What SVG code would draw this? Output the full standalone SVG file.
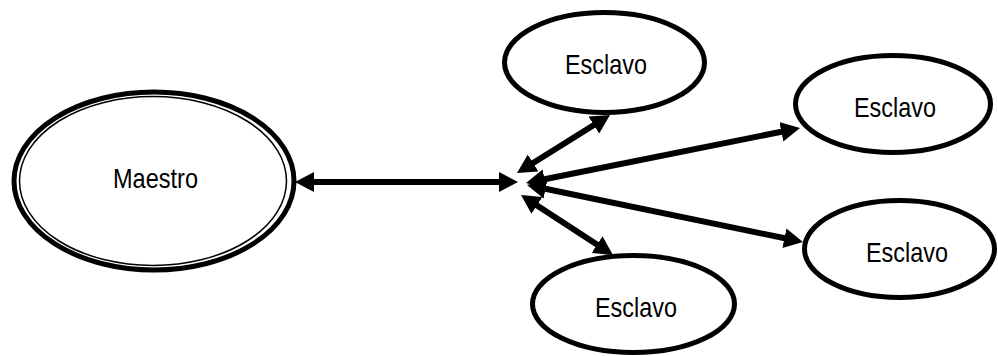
<svg xmlns="http://www.w3.org/2000/svg" width="998" height="356" viewBox="0 0 998 356">
<style>
  .node { fill: #fff; stroke: #000; stroke-width: 5; }
  .thin { fill: none; stroke: #000; stroke-width: 1.5; }
  .lbl { font-family: "Liberation Sans Narrow", "Liberation Sans", Arial, sans-serif; font-size: 28px; fill: #000; text-anchor: middle; }
  .conn { stroke: #000; stroke-width: 6; fill: none; marker-start: url(#ah); marker-end: url(#ah); }
</style>
<defs>
  <marker id="ah" markerUnits="userSpaceOnUse" markerWidth="20" markerHeight="20" refX="9" refY="10" orient="auto-start-reverse">
    <path d="M0,0 L19,10 L0,20 z" fill="#000"/>
  </marker>
</defs>
<rect width="998" height="356" fill="#fff"/>
<g id="maestro">
  <ellipse class="node" cx="154" cy="181" rx="140" ry="89"/>
  <ellipse class="thin" cx="153" cy="181" rx="133.5" ry="84.5"/>
  <text class="lbl" x="155.5" y="188" textLength="85" lengthAdjust="spacingAndGlyphs">Maestro</text>
</g>
<g id="esclavo1">
  <ellipse class="node" cx="604.5" cy="62.5" rx="100" ry="50"/>
  <text class="lbl" x="606" y="74" textLength="82" lengthAdjust="spacingAndGlyphs">Esclavo</text>
</g>
<g id="esclavo2">
  <ellipse class="node" cx="893" cy="104" rx="97.5" ry="48.5"/>
  <text class="lbl" x="895" y="117" textLength="82" lengthAdjust="spacingAndGlyphs">Esclavo</text>
</g>
<g id="esclavo3">
  <ellipse class="node" cx="899.5" cy="249" rx="95" ry="48.5"/>
  <text class="lbl" x="907" y="262" textLength="82" lengthAdjust="spacingAndGlyphs">Esclavo</text>
</g>
<g id="esclavo4">
  <ellipse class="node" cx="633.5" cy="304" rx="101" ry="48.5"/>
  <text class="lbl" x="636" y="317" textLength="82" lengthAdjust="spacingAndGlyphs">Esclavo</text>
</g>
<g id="connectors">
  <line class="conn" x1="305" y1="182" x2="508" y2="182"/>
  <line class="conn" x1="525.5" y1="167.7" x2="601.5" y2="120.3"/>
  <line class="conn" x1="535.8" y1="181" x2="790.2" y2="130"/>
  <line class="conn" x1="536.8" y1="187" x2="793.2" y2="240"/>
  <line class="conn" x1="529.4" y1="200.5" x2="604.6" y2="249.5"/>
</g>
</svg>
